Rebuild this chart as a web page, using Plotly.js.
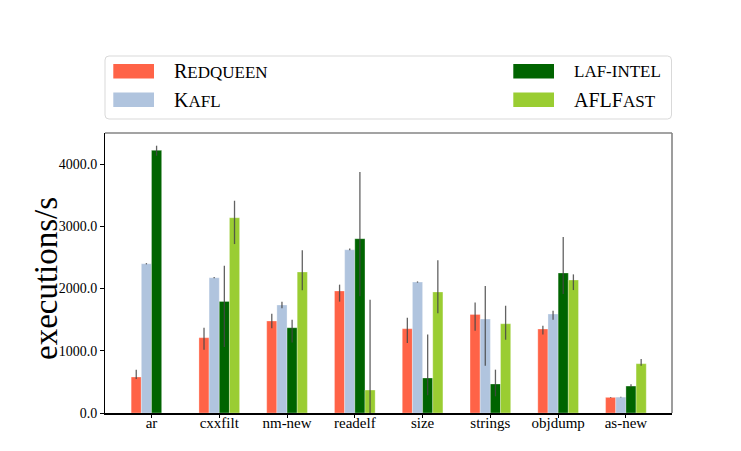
<!DOCTYPE html>
<html>
<head>
<meta charset="utf-8">
<script src="https://cdn.plot.ly/plotly-3.0.1.min.js"></script>
<style>html,body{margin:0;padding:0;background:#fff;}#chart{width:741px;height:451px;}</style>
</head>
<body>
<div id="chart"></div>
<script>
// ---- data ----
var categories = ['ar', 'cxxfilt', 'nm-new', 'readelf', 'size', 'strings', 'objdump', 'as-new'];

var seriesNames = ['Redqueen', 'Kafl', 'laf-intel', 'AFLFast'];

var redqueen      = [578, 1210, 1478, 1960, 1354, 1584, 1349, 251];
var redqueenPlus  = [118, 161, 118, 102, 177, 193, 54, 6];
var redqueenMinus = [32, 193, 118, 171, 230, 262, 86, 6];

var kafl      = [2398, 2173, 1735, 2623, 2104, 1510, 1590, 255];
var kaflPlus  = [10, 10, 54, 20, 10, 530, 54, 6];
var kaflMinus = [10, 10, 54, 10, 10, 749, 91, 6];

var lafintel      = [4219, 1793, 1370, 2800, 562, 466, 2249, 433];
var lafintelPlus  = [75, 573, 128, 1071, 701, 230, 578, 27];
var lafintelMinus = [86, 733, 236, 926, 278, 198, 337, 16];

var aflfast      = [null, 3137, 2265, 369, 1944, 1434, 2136, 792];
var aflfastPlus  = [null, 273, 348, 1451, 509, 289, 91, 75];
var aflfastMinus = [null, 423, 294, 1451, 343, 257, 161, 32];

var yTickVals = [0, 1000, 2000, 3000, 4000];
var yTickText = ['0.0', '1000.0', '2000.0', '3000.0', '4000.0'];

var yTitle = 'executions/s';

// legend labels (small caps emulated)
var legendLabels = [
  'R<span style="font-size:17px">EDQUEEN</span>',
  'K<span style="font-size:17px">AFL</span>',
  '<span style="font-size:17px">LAF-INTEL</span>',
  'AFLF<span style="font-size:17px">AST</span>'
];

// ---- styling ----
var colors = ['#FF6347', '#B0C4DE', '#006400', '#9ACD32'];
var FONT = 'Liberation Serif, DejaVu Serif, serif';

var values = [redqueen, kafl, lafintel, aflfast];
var plus = [redqueenPlus, kaflPlus, lafintelPlus, aflfastPlus];
var minus = [redqueenMinus, kaflMinus, lafintelMinus, aflfastMinus];

var traces = values.map(function (v, i) {
  return {
    type: 'bar',
    name: seriesNames[i],
    x: categories,
    y: v,
    marker: { color: colors[i], line: { color: 'rgba(255,255,255,0.5)', width: 0.6 } },
    error_y: {
      type: 'data', symmetric: false,
      array: plus[i], arrayminus: minus[i],
      color: 'rgba(70,70,70,0.85)', thickness: 1.3, width: 0
    },
    showlegend: false
  };
});

// manual legend (matplotlib-like wide swatches in a rounded frame)
var L = 105, T = 133, W = 567, H = 280;
function px(x) { return (x - L) / W; }
function py(y) { return (T + H - y) / H; }

function roundedRect(x0, y0, x1, y1, r) {
  var rx = r / W, ry = r / H;
  var a = px(x0), b = px(x1), c = py(y0), d = py(y1); // c top, d bottom
  return 'M' + (a + rx) + ',' + c +
    ' L' + (b - rx) + ',' + c + ' Q' + b + ',' + c + ' ' + b + ',' + (c - ry) +
    ' L' + b + ',' + (d + ry) + ' Q' + b + ',' + d + ' ' + (b - rx) + ',' + d +
    ' L' + (a + rx) + ',' + d + ' Q' + a + ',' + d + ' ' + a + ',' + (d + ry) +
    ' L' + a + ',' + (c - ry) + ' Q' + a + ',' + c + ' ' + (a + rx) + ',' + c + ' Z';
}

var shapes = [
  // top & right gray spines
  { type: 'line', xref: 'paper', yref: 'paper', x0: 0, x1: 1, y0: 1, y1: 1, line: { color: '#858585', width: 1.6 } },
  { type: 'line', xref: 'paper', yref: 'paper', x0: 1, x1: 1, y0: 0, y1: 1, line: { color: '#858585', width: 1.6 } },
  // legend frame
  { type: 'path', xref: 'paper', yref: 'paper', path: roundedRect(105, 56, 671.5, 119, 4),
    line: { color: '#d9d9d9', width: 1 }, fillcolor: 'rgba(255,255,255,0.8)' }
];

var legendPos = [
  { sx: 113.3, y: 71.2 }, { sx: 113.3, y: 99.7 },
  { sx: 513.3, y: 71.2 }, { sx: 513.3, y: 99.7 }
];
var annotations = [];
legendPos.forEach(function (p, i) {
  shapes.push({ type: 'rect', xref: 'paper', yref: 'paper',
    x0: px(p.sx), x1: px(p.sx + 40.7), y0: py(p.y - 7.2), y1: py(p.y + 7.2),
    line: { width: 0 }, fillcolor: colors[i] });
  annotations.push({ xref: 'paper', yref: 'paper', x: px(p.sx + 58.4), y: py(p.y),
    xanchor: 'left', yanchor: 'middle', showarrow: false,
    text: legendLabels[i], font: { family: FONT, size: 20, color: '#000' } });
});

// y-axis title placed like the reference
annotations.push({ xref: 'paper', yref: 'paper', x: px(46), y: py(279), xanchor: 'center', yanchor: 'middle',
  textangle: -90, showarrow: false, text: yTitle, font: { family: FONT, size: 33, color: '#000' } });

var layout = {
  width: 741, height: 451,
  margin: { l: L, r: 741 - L - W, t: T, b: 451 - T - H, pad: 0 },
  paper_bgcolor: '#fff', plot_bgcolor: '#fff',
  barmode: 'group', bargap: 0.4, bargroupgap: 0,
  font: { family: FONT, size: 14, color: '#000' },
  xaxis: {
    type: 'category', range: [-0.686, 7.68],
    showline: true, linecolor: '#000', linewidth: 1.5,
    ticks: 'outside', ticklen: 3.5, tickcolor: '#000', tickwidth: 1,
    ticklabelstandoff: -8,
    showgrid: false, zeroline: false,
    tickfont: { family: FONT, size: 15, color: '#000' }
  },
  yaxis: {
    range: [0, 4498], tickvals: yTickVals, ticktext: yTickText,
    showline: true, linecolor: '#000', linewidth: 1.5,
    ticks: 'outside', ticklen: 3.5, tickcolor: '#000', tickwidth: 1,
    showgrid: false, zeroline: false,
    tickfont: { family: FONT, size: 14, color: '#000' }
  },
  shapes: shapes,
  annotations: annotations,
  showlegend: false
};

Plotly.newPlot('chart', traces, layout, { displayModeBar: false, staticPlot: true });
</script>
</body>
</html>
